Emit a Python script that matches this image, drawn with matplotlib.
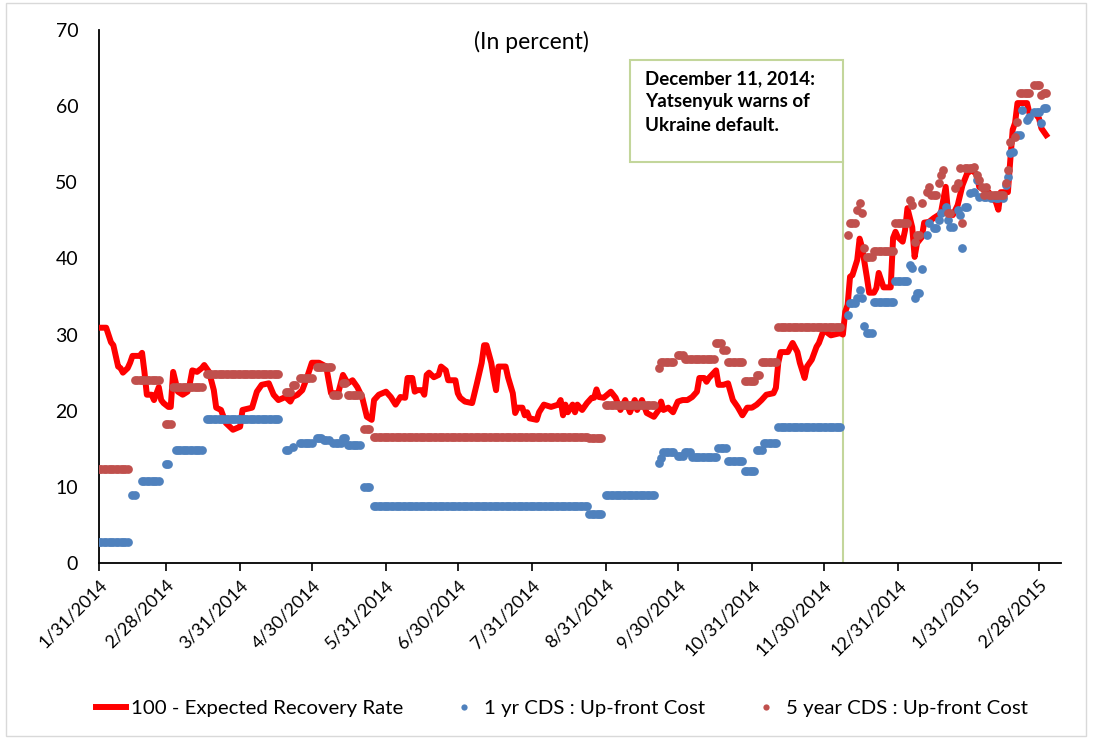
import matplotlib
matplotlib.use("Agg")
import matplotlib.pyplot as plt
import matplotlib.dates as mdates
from matplotlib.patches import Rectangle
from matplotlib.lines import Line2D
import pandas as pd

plt.rcParams['font.family'] = ['Lato', 'DejaVu Sans']

# ---------------- data ----------------
tick_labels = ["1/31/2014", "2/28/2014", "3/31/2014", "4/30/2014", "5/31/2014",
               "6/30/2014", "7/31/2014", "8/31/2014", "9/30/2014", "10/31/2014",
               "11/30/2014", "12/31/2014", "1/31/2015", "2/28/2015"]

# 100 - Expected Recovery Rate (red line)
recovery_dates = [
    "2014-01-31", "2014-02-03", "2014-02-05", "2014-02-06", "2014-02-08", "2014-02-09", "2014-02-10",
    "2014-02-12", "2014-02-13", "2014-02-14", "2014-02-17", "2014-02-18", "2014-02-19", "2014-02-20",
    "2014-02-22", "2014-02-23", "2014-02-25", "2014-02-26", "2014-02-27", "2014-03-01", "2014-03-02",
    "2014-03-03", "2014-03-05", "2014-03-07", "2014-03-09", "2014-03-10", "2014-03-11", "2014-03-13",
    "2014-03-15", "2014-03-16", "2014-03-18", "2014-03-20", "2014-03-21", "2014-03-23", "2014-03-25",
    "2014-03-28", "2014-03-31", "2014-04-01", "2014-04-05", "2014-04-07", "2014-04-09", "2014-04-12",
    "2014-04-14", "2014-04-16", "2014-04-19", "2014-04-21", "2014-04-22", "2014-04-24", "2014-04-26",
    "2014-04-28", "2014-04-30", "2014-05-03", "2014-05-06", "2014-05-07", "2014-05-08", "2014-05-11",
    "2014-05-13", "2014-05-15", "2014-05-17", "2014-05-19", "2014-05-21", "2014-05-23", "2014-05-25",
    "2014-05-26", "2014-05-28", "2014-05-31", "2014-06-02", "2014-06-04", "2014-06-06", "2014-06-08",
    "2014-06-09", "2014-06-11", "2014-06-12", "2014-06-13", "2014-06-15", "2014-06-16", "2014-06-17",
    "2014-06-18", "2014-06-20", "2014-06-22", "2014-06-23", "2014-06-25", "2014-06-26", "2014-06-29",
    "2014-06-30", "2014-07-01", "2014-07-03", "2014-07-06", "2014-07-07", "2014-07-08", "2014-07-10",
    "2014-07-11", "2014-07-12", "2014-07-14", "2014-07-15", "2014-07-16", "2014-07-17", "2014-07-20",
    "2014-07-21", "2014-07-23", "2014-07-24", "2014-07-25", "2014-07-27", "2014-07-28", "2014-07-29",
    "2014-07-30", "2014-08-02", "2014-08-03", "2014-08-05", "2014-08-08", "2014-08-11", "2014-08-12",
    "2014-08-13", "2014-08-14", "2014-08-15", "2014-08-17", "2014-08-18", "2014-08-19", "2014-08-21",
    "2014-08-23", "2014-08-25", "2014-08-26", "2014-08-27", "2014-08-28", "2014-08-30", "2014-09-02",
    "2014-09-04", "2014-09-06", "2014-09-08", "2014-09-10", "2014-09-12", "2014-09-13", "2014-09-15",
    "2014-09-17", "2014-09-20", "2014-09-22", "2014-09-23", "2014-09-24", "2014-09-26", "2014-09-28",
    "2014-09-30", "2014-10-02", "2014-10-04", "2014-10-06", "2014-10-08", "2014-10-09", "2014-10-11",
    "2014-10-12", "2014-10-13", "2014-10-16", "2014-10-17", "2014-10-19", "2014-10-21", "2014-10-23",
    "2014-10-25", "2014-10-27", "2014-10-29", "2014-10-31", "2014-11-02", "2014-11-04", "2014-11-06",
    "2014-11-09", "2014-11-10", "2014-11-11", "2014-11-12", "2014-11-15", "2014-11-17", "2014-11-19",
    "2014-11-20", "2014-11-22", "2014-11-23", "2014-11-25", "2014-11-27", "2014-11-28", "2014-11-30",
    "2014-12-03", "2014-12-07", "2014-12-08", "2014-12-09", "2014-12-10", "2014-12-11", "2014-12-12",
    "2014-12-14", "2014-12-15", "2014-12-16", "2014-12-18", "2014-12-19", "2014-12-21", "2014-12-22",
    "2014-12-23", "2014-12-25", "2014-12-28", "2014-12-29", "2014-12-30", "2014-12-31", "2015-01-02",
    "2015-01-03", "2015-01-04", "2015-01-06", "2015-01-07", "2015-01-08", "2015-01-10", "2015-01-11",
    "2015-01-13", "2015-01-15", "2015-01-17", "2015-01-18", "2015-01-20", "2015-01-21", "2015-01-23",
    "2015-01-25", "2015-01-27", "2015-01-29", "2015-01-31", "2015-02-02", "2015-02-03", "2015-02-05",
    "2015-02-07", "2015-02-08", "2015-02-10", "2015-02-11", "2015-02-12", "2015-02-15", "2015-02-16",
    "2015-02-17", "2015-02-18", "2015-02-19", "2015-02-23", "2015-02-24", "2015-02-26", "2015-02-28",
    "2015-03-01", "2015-03-03"]
recovery_values = [
    30.9, 30.9, 29.0, 28.6, 25.8, 25.6, 25.0,
    25.6, 26.3, 27.2, 27.2, 27.6, 25.1, 22.1,
    22.1, 21.4, 23.1, 21.4, 21.0, 20.5, 20.5,
    25.1, 22.5, 22.1, 22.5, 23.6, 25.3, 25.1,
    25.6, 26.0, 25.1, 22.7, 20.4, 20.1, 18.4,
    17.5, 17.9, 20.1, 20.4, 22.5, 23.4, 23.6,
    22.1, 21.4, 21.8, 21.2, 21.8, 22.1, 22.7,
    24.4, 26.3, 26.3, 25.8, 24.0, 22.3, 22.3,
    24.7, 23.6, 24.0, 23.1, 21.8, 19.2, 18.8,
    21.4, 22.1, 22.5, 21.8, 20.8, 21.8, 21.7,
    24.3, 24.3, 22.5, 22.7, 22.7, 22.1, 24.7,
    25.0, 24.4, 24.7, 25.8, 25.3, 24.0, 24.0,
    22.3, 21.7, 21.2, 21.0, 22.3, 23.6, 26.3,
    28.6, 28.6, 26.3, 24.3, 22.7, 25.8, 25.8,
    24.4, 22.3, 19.7, 20.4, 20.4, 19.4, 19.8,
    19.0, 18.8, 19.8, 20.8, 20.5, 20.8, 21.4,
    19.4, 20.8, 19.8, 20.8, 19.8, 20.8, 20.1,
    21.0, 21.7, 21.7, 22.8, 21.8, 21.7, 22.5,
    21.7, 20.1, 21.4, 19.8, 21.4, 20.1, 21.4,
    19.7, 19.2, 20.1, 21.2, 20.1, 20.4, 19.8,
    21.2, 21.4, 21.4, 21.8, 22.5, 24.3, 24.3,
    23.8, 24.3, 25.3, 23.4, 23.4, 23.6, 21.4,
    20.5, 19.4, 20.4, 20.4, 20.8, 21.4, 22.1,
    22.3, 23.0, 26.3, 27.7, 27.7, 28.9, 27.7,
    26.3, 24.3, 25.8, 26.7, 28.4, 28.9, 30.6,
    29.9, 30.2, 30.0, 33.0, 33.9, 37.6, 37.8,
    39.8, 42.6, 41.5, 37.6, 35.5, 35.5, 36.1,
    38.1, 36.2, 36.2, 42.7, 43.5, 42.8, 42.2,
    43.7, 46.6, 44.1, 40.2, 42.0, 42.8, 44.7,
    44.8, 45.3, 45.7, 46.0, 49.4, 46.0, 45.7,
    47.0, 49.6, 51.2, 51.6, 51.0, 49.4, 49.0,
    48.7, 48.1, 47.4, 46.4, 48.7, 48.7, 52.9,
    56.9, 57.8, 60.4, 60.4, 59.1, 59.2, 58.4,
    57.1, 56.2]

# 1 yr CDS : Up-front Cost -- constant runs (start, end, value)
cds1_run_start = ["2014-01-31", "2014-02-14", "2014-02-18", "2014-02-28", "2014-03-04", "2014-03-17",
                  "2014-04-19", "2014-04-22", "2014-04-25", "2014-05-02", "2014-05-05", "2014-05-09",
                  "2014-05-13", "2014-05-15", "2014-05-22", "2014-05-26", "2014-08-24", "2014-08-31",
                  "2014-09-22", "2014-09-23", "2014-09-24", "2014-09-30", "2014-10-03", "2014-10-06",
                  "2014-10-17", "2014-10-21", "2014-10-28", "2014-11-02", "2014-11-05", "2014-11-11",
                  "2014-12-21", "2014-12-30"]
cds1_run_end = ["2014-02-12", "2014-02-15", "2014-02-25", "2014-03-01", "2014-03-15", "2014-04-16",
                "2014-04-20", "2014-04-22", "2014-04-30", "2014-05-04", "2014-05-07", "2014-05-12",
                "2014-05-14", "2014-05-20", "2014-05-24", "2014-08-23", "2014-08-29", "2014-09-20",
                "2014-09-22", "2014-09-23", "2014-09-28", "2014-10-02", "2014-10-05", "2014-10-16",
                "2014-10-20", "2014-10-27", "2014-11-01", "2014-11-04", "2014-11-10", "2014-12-07",
                "2014-12-29", "2015-01-04"]
cds1_run_value = [2.8, 8.9, 10.8, 13.0, 14.8, 18.9,
                  14.8, 15.3, 15.8, 16.4, 16.2, 15.8,
                  16.4, 15.5, 10.0, 7.5, 6.4, 8.9,
                  13.1, 13.8, 14.6, 14.1, 14.6, 13.9,
                  15.1, 13.4, 12.1, 14.8, 15.8, 17.9,
                  34.3, 37.1]
# 1 yr CDS : individual days after the default warning
cds1_day_dates = ["2014-12-10", "2014-12-11", "2014-12-12", "2014-12-13", "2014-12-14", "2014-12-15",
                  "2014-12-16", "2014-12-17", "2014-12-18", "2014-12-19", "2014-12-20",
                  "2015-01-05", "2015-01-06", "2015-01-07", "2015-01-08", "2015-01-09", "2015-01-10",
                  "2015-01-12", "2015-01-13", "2015-01-15", "2015-01-16", "2015-01-17", "2015-01-18",
                  "2015-01-20", "2015-01-21", "2015-01-22", "2015-01-23", "2015-01-25", "2015-01-26",
                  "2015-01-27", "2015-01-28", "2015-01-29", "2015-01-30", "2015-02-01", "2015-02-02",
                  "2015-02-03", "2015-02-05", "2015-02-06", "2015-02-08", "2015-02-10", "2015-02-11",
                  "2015-02-13", "2015-02-14", "2015-02-15", "2015-02-16", "2015-02-17", "2015-02-19",
                  "2015-02-20", "2015-02-21", "2015-02-23", "2015-02-24", "2015-02-26", "2015-02-27",
                  "2015-02-28", "2015-03-01", "2015-03-02", "2015-03-03"]
cds1_day_values = [32.6, 34.1, 34.1, 34.1, 34.8, 35.9,
                   34.8, 31.1, 30.2, 30.2, 30.2,
                   39.1, 38.7, 34.8, 35.5, 35.5, 38.6,
                   43.1, 44.7, 44.0, 44.0, 45.1, 46.0,
                   46.8, 45.1, 44.1, 44.1, 46.4, 45.7,
                   41.4, 46.8, 46.8, 48.6, 48.7, 50.3,
                   48.1, 48.1, 48.1, 47.9, 47.9, 47.9,
                   47.9, 49.6, 50.7, 53.8, 54.0, 56.2,
                   56.2, 59.5, 58.2, 58.6, 59.2, 59.2,
                   59.2, 57.8, 59.8, 59.8]

# 5 year CDS : Up-front Cost -- constant runs (start, end, value)
cds5_run_start = ["2014-01-31", "2014-02-15", "2014-02-28", "2014-03-03", "2014-03-17", "2014-04-19",
                  "2014-04-22", "2014-04-25", "2014-05-02", "2014-05-09", "2014-05-13", "2014-05-15",
                  "2014-05-22", "2014-05-26", "2014-08-24", "2014-08-31", "2014-09-22", "2014-09-23",
                  "2014-09-30", "2014-10-03", "2014-10-16", "2014-10-19", "2014-10-21", "2014-10-28",
                  "2014-11-02", "2014-11-04", "2014-11-11", "2014-12-21", "2014-12-30", "2015-02-08",
                  "2015-02-20", "2015-02-26"]
cds5_run_end = ["2014-02-12", "2014-02-25", "2014-03-02", "2014-03-15", "2014-04-16", "2014-04-21",
                "2014-04-23", "2014-04-30", "2014-05-08", "2014-05-11", "2014-05-14", "2014-05-20",
                "2014-05-24", "2014-08-23", "2014-08-29", "2014-09-20", "2014-09-22", "2014-09-28",
                "2014-10-02", "2014-10-15", "2014-10-18", "2014-10-20", "2014-10-27", "2014-11-01",
                "2014-11-03", "2014-11-10", "2014-12-07", "2014-12-29", "2015-01-04", "2015-02-13",
                "2015-02-24", "2015-02-28"]
cds5_run_value = [12.3, 24.0, 18.2, 23.1, 24.8, 22.5,
                  23.4, 24.3, 25.8, 22.1, 23.6, 22.1,
                  17.6, 16.6, 16.4, 20.8, 25.6, 26.4,
                  27.3, 26.8, 28.9, 28.0, 26.4, 23.9,
                  24.7, 26.4, 31.0, 41.0, 44.7, 48.3,
                  61.7, 62.8]
# 5 year CDS : individual days after the default warning
cds5_day_dates = ["2014-12-10", "2014-12-11", "2014-12-12", "2014-12-13", "2014-12-14", "2014-12-15",
                  "2014-12-16", "2014-12-17", "2014-12-18", "2014-12-19", "2014-12-20",
                  "2015-01-05", "2015-01-06", "2015-01-07", "2015-01-08", "2015-01-09", "2015-01-10",
                  "2015-01-12", "2015-01-13", "2015-01-14", "2015-01-15", "2015-01-16", "2015-01-17",
                  "2015-01-18", "2015-01-19", "2015-01-21", "2015-01-22", "2015-01-24", "2015-01-25",
                  "2015-01-26", "2015-01-27", "2015-01-28", "2015-01-29", "2015-01-30", "2015-01-31",
                  "2015-02-01", "2015-02-02", "2015-02-03", "2015-02-04", "2015-02-05", "2015-02-06",
                  "2015-02-07", "2015-02-14", "2015-02-15", "2015-02-16", "2015-02-18", "2015-02-19",
                  "2015-03-01", "2015-03-02", "2015-03-03"]
cds5_day_values = [43.1, 44.7, 44.7, 44.7, 46.4, 47.3,
                   46.0, 41.4, 40.2, 40.2, 40.2,
                   47.7, 47.0, 42.2, 43.1, 43.1, 47.3,
                   48.7, 49.4, 48.3, 48.3, 48.3, 49.9,
                   51.0, 51.6, 46.0, 46.0, 49.2, 49.9,
                   51.9, 44.7, 51.9, 51.9, 51.9, 51.9,
                   52.0, 51.0, 50.3, 49.4, 48.3, 49.4,
                   48.3, 49.9, 51.6, 55.3, 56.0, 57.9,
                   61.5, 61.7, 61.7]

event_date = "2014-12-08"
event_text = "December 11, 2014:\nYatsenyuk warns of\nUkraine default."

# ---------------- helpers ----------------
def expand(starts, ends, vals, day_dates, day_vals):
    d, v = [], []
    for s, e, val in zip(starts, ends, vals):
        rng = pd.date_range(s, e, freq="D")
        d.extend(rng)
        v.extend([val] * len(rng))
    d.extend(pd.to_datetime(day_dates))
    v.extend(day_vals)
    df = pd.DataFrame({"d": d, "v": v}).sort_values("d")
    return df["d"].values, df["v"].values

c1_d, c1_v = expand(cds1_run_start, cds1_run_end, cds1_run_value, cds1_day_dates, cds1_day_values)
c5_d, c5_v = expand(cds5_run_start, cds5_run_end, cds5_run_value, cds5_day_dates, cds5_day_values)

RED = "#FF0000"
BLUE = "#4F81BD"
BROWN = "#C0504D"
GREEN = "#C3D69B"

W, H = 1093, 738
fig = plt.figure(figsize=(W / 100, H / 100), dpi=100)
ax = fig.add_axes([99 / W, 1 - 563 / H, (1061 - 99) / W, (563 - 30) / H])

ax.plot(pd.to_datetime(recovery_dates), recovery_values, color=RED, lw=4.3,
        solid_joinstyle="round", zorder=3)
ax.plot(c1_d, c1_v, ls="none", marker="o", ms=6.3, mew=0, color=BLUE, zorder=4)
ax.plot(c5_d, c5_v, ls="none", marker="o", ms=6.3, mew=0, color=BROWN, zorder=5)

ax.set_ylim(0, 70)
ax.set_yticks(range(0, 71, 10))
x0 = mdates.date2num(pd.Timestamp("2014-01-31"))
ax.set_xlim(x0, x0 + 402.2)

tick_dates = pd.to_datetime(tick_labels, format="%m/%d/%Y")
ax.set_xticks(tick_dates)
ax.set_xticklabels(tick_labels, rotation=45, ha="right", rotation_mode="anchor")

for s in ["top", "right"]:
    ax.spines[s].set_visible(False)
ax.spines["left"].set_linewidth(1.3)
ax.spines["bottom"].set_linewidth(1.3)
ax.tick_params(axis="x", direction="out", length=6, width=1.2, labelsize=13, pad=4, colors="black")
ax.tick_params(axis="y", length=0, labelsize=14, pad=15)

# event line and box
ev = mdates.date2num(pd.Timestamp(event_date))
ax.plot([ev, ev], [0, (563 - 162) / 533 * 70], color=GREEN, lw=1.5, zorder=2)
box_left = (630 - 99) / 962
box_right = (ev - x0) / 402.2
box_bottom = (563 - 162) / 533
box_top = (563 - 60) / 533
ax.add_patch(Rectangle((box_left, box_bottom), box_right - box_left, box_top - box_bottom,
                       transform=ax.transAxes, facecolor="white", edgecolor=GREEN, lw=1.5,
                       zorder=6))
ax.text(box_left + 15 / 962, box_top - 10 / 533, event_text, transform=ax.transAxes,
        ha="left", va="top", fontsize=13.5, fontweight="bold", linespacing=1.45, zorder=7)

ax.text((531 - 99) / 962, (563 - 42) / 533, "(In percent)", transform=ax.transAxes,
        ha="center", va="center", fontsize=16.5)

handles = [Line2D([], [], color=RED, lw=4.3),
           Line2D([], [], ls="none", marker="o", ms=4.5, mew=0, color=BLUE),
           Line2D([], [], ls="none", marker="o", ms=4.5, mew=0, color=BROWN)]
labels = ["100 - Expected Recovery Rate", "1 yr CDS : Up-front Cost", "5 year CDS : Up-front Cost"]
fig.legend(handles, labels, loc="center", bbox_to_anchor=(0.514, 1 - 708 / H), ncol=3,
           frameon=False, fontsize=14.7, handlelength=1.5, handletextpad=0.25, columnspacing=2.2)

fig.add_artist(Rectangle((6 / W, 2 / H), (1086 - 6) / W, (735 - 2) / H, transform=fig.transFigure,
                         fill=False, edgecolor="#D9D9D9", lw=1))

fig.savefig("out.png", dpi=100)
